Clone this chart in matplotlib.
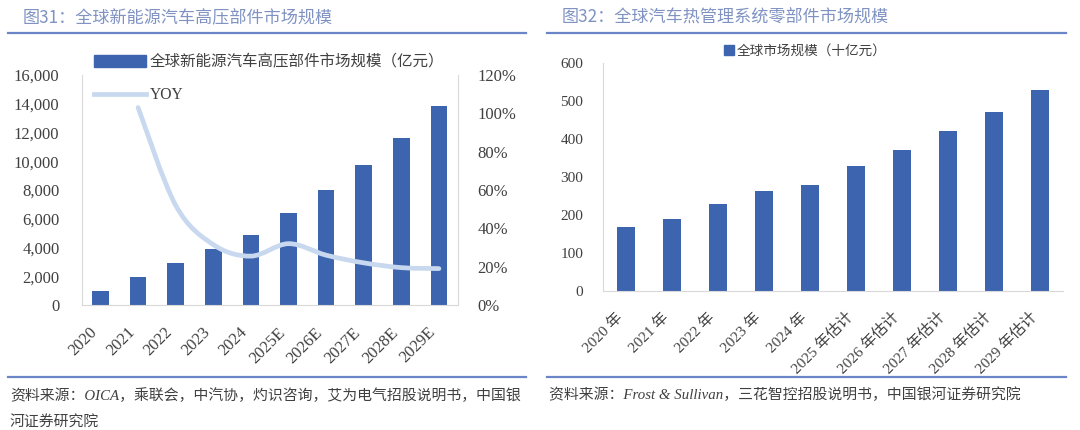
import matplotlib.pyplot as plt
from matplotlib.path import Path
from matplotlib.patches import PathPatch, Patch
from matplotlib.lines import Line2D

# left chart: global NEV high-voltage parts market (100m yuan) + YOY
years_l = ['2020', '2021', '2022', '2023', '2024', '2025E', '2026E', '2027E', '2028E', '2029E']
hv_market = [970, 1920, 2930, 3880, 4850, 6370, 8010, 9770, 11610, 13810]
yoy_years = years_l[1:]
yoy = [103, 52, 31.5, 25.5, 32, 26, 22, 19.5, 19]  # percent

# right chart: global thermal management parts market (10bn yuan)
years_r = ['2020 年', '2021 年', '2022 年', '2023 年', '2024 年',
           '2025 年估计', '2026 年估计', '2027 年估计', '2028 年估计', '2029 年估计']
thermal_market = [168, 190, 229, 264, 279, 330, 372, 421, 472, 528]

BAR = '#3d64af'
LINE = '#c8d8ef'
GRID = '#d9d9d9'
TXT = '#404040'
TITLE = '#7f92c2'
RULE = '#6a86c6'
SERIF = ['Liberation Serif', 'Noto Sans CJK SC']
CJK = ['Noto Sans CJK SC', 'Liberation Serif']

fig = plt.figure(figsize=(10.8, 4.3), dpi=100)

# titles, rules and sources
fig.text(23 / 1080, 1 - 18 / 430, '图31：全球新能源汽车高压部件市场规模', family=CJK,
         fontsize=12.3, color=TITLE, va='center')
fig.text(562 / 1080, 1 - 18 / 430, '图32：全球汽车热管理系统零部件市场规模', family=CJK,
         fontsize=12.3, color=TITLE, va='center')
for x0, x1 in [(8, 526), (547, 1066)]:
    for yy in (33, 377):
        fig.add_artist(Line2D([x0 / 1080, x1 / 1080], [1 - yy / 430] * 2, color=RULE, lw=1.6))
fig.text(10 / 1080, 1 - 396 / 430, '资料来源：OICA，乘联会，中汽协，灼识咨询，艾为电气招股说明书，中国银',
         family=SERIF, style='italic', fontsize=10.7, color=TXT, va='center')
fig.text(10 / 1080, 1 - 422 / 430, '河证券研究院',
         family=SERIF, style='italic', fontsize=10.7, color=TXT, va='center')
fig.text(549 / 1080, 1 - 395 / 430, '资料来源：Frost & Sullivan，三花智控招股说明书，中国银河证券研究院',
         family=SERIF, style='italic', fontsize=10.7, color=TXT, va='center')

# ---- left chart
ax = fig.add_axes([81.7 / 1080, 1 - 305 / 430, 376 / 1080, 230 / 430])
xl = list(range(len(years_l)))
ax.bar(xl, hv_market, width=0.44, color=BAR, zorder=2)
ax.set_xlim(-0.5, len(years_l) - 0.5)
ax.set_ylim(0, 16000)
ax.set_yticks(range(0, 16001, 2000))
ax.set_yticklabels([f'{v:,}' for v in range(0, 16001, 2000)])
ax.set_xticks(xl)
ax.set_xticklabels(years_l, rotation=45, ha='right')
ax.tick_params(length=0, labelsize=12, colors=TXT, pad=14)
ax.tick_params(axis='y', pad=16)
for lab in ax.get_xticklabels() + ax.get_yticklabels():
    lab.set_family(SERIF)
for s in ['left', 'right', 'bottom']:
    ax.spines[s].set_color(GRID)
ax.spines['top'].set_visible(False)

ax2 = ax.twinx()
ax2.set_ylim(0, 120)
ax2.set_yticks(range(0, 121, 20))
ax2.set_yticklabels([f'{v}%' for v in range(0, 121, 20)])
ax2.tick_params(length=0, labelsize=12, colors=TXT, pad=14)
for lab in ax2.get_yticklabels():
    lab.set_family(SERIF)
for s in ax2.spines.values():
    s.set_visible(False)

# smoothed line like the spreadsheet (Catmull-Rom as Bezier)
px = [years_l.index(y) for y in yoy_years]
pts = list(zip(px, yoy))
verts = [pts[0]]
codes = [Path.MOVETO]
for i in range(len(pts) - 1):
    p0 = pts[i - 1] if i > 0 else pts[i]
    p1, p2 = pts[i], pts[i + 1]
    p3 = pts[i + 2] if i + 2 < len(pts) else pts[i + 1]
    c1 = (p1[0] + (p2[0] - p0[0]) / 6, p1[1] + (p2[1] - p0[1]) / 6)
    c2 = (p2[0] - (p3[0] - p1[0]) / 6, p2[1] - (p3[1] - p1[1]) / 6)
    verts += [c1, c2, p2]
    codes += [Path.CURVE4] * 3
ax2.add_patch(PathPatch(Path(verts, codes), fill=False, edgecolor=LINE, lw=3.4,
                        capstyle='round', zorder=3))

handles = [Patch(color=BAR), Line2D([], [], color=LINE, lw=3.4)]
fig.legend(handles, ['全球新能源汽车高压部件市场规模（亿元）', 'YOY'],
           loc='upper left', bbox_to_anchor=(88 / 1080, 1 - 48 / 430),
           frameon=False, prop={'family': SERIF, 'size': 11.2},
           handlelength=3.3, handleheight=0.8, handletextpad=0.25,
           labelspacing=1.1, borderaxespad=0, labelcolor=TXT)

# ---- right chart
bx = fig.add_axes([602.7 / 1080, 1 - 290.7 / 430, 460 / 1080, 227.5 / 430])
xr = list(range(len(years_r)))
bx.bar(xr, thermal_market, width=0.4, color=BAR, zorder=2)
bx.set_xlim(-0.5, len(years_r) - 0.5)
bx.set_ylim(0, 600)
bx.set_yticks(range(0, 601, 100))
bx.set_xticks(xr)
bx.set_xticklabels(years_r, rotation=45, ha='right')
bx.tick_params(length=0, labelsize=11, colors=TXT, pad=14)
for lab in bx.get_xticklabels() + bx.get_yticklabels():
    lab.set_family(SERIF)
for s in ['left', 'bottom']:
    bx.spines[s].set_color(GRID)
for s in ['top', 'right']:
    bx.spines[s].set_visible(False)
fig.legend([Patch(color=BAR)], ['全球市场规模（十亿元）'], loc='center',
           bbox_to_anchor=(805 / 1080, 1 - 51 / 430), frameon=False,
           prop={'family': CJK, 'size': 9.8}, handlelength=0.75, handleheight=0.75,
           handletextpad=0.2, borderaxespad=0, labelcolor=TXT)

fig.savefig('out.png', dpi=100)
